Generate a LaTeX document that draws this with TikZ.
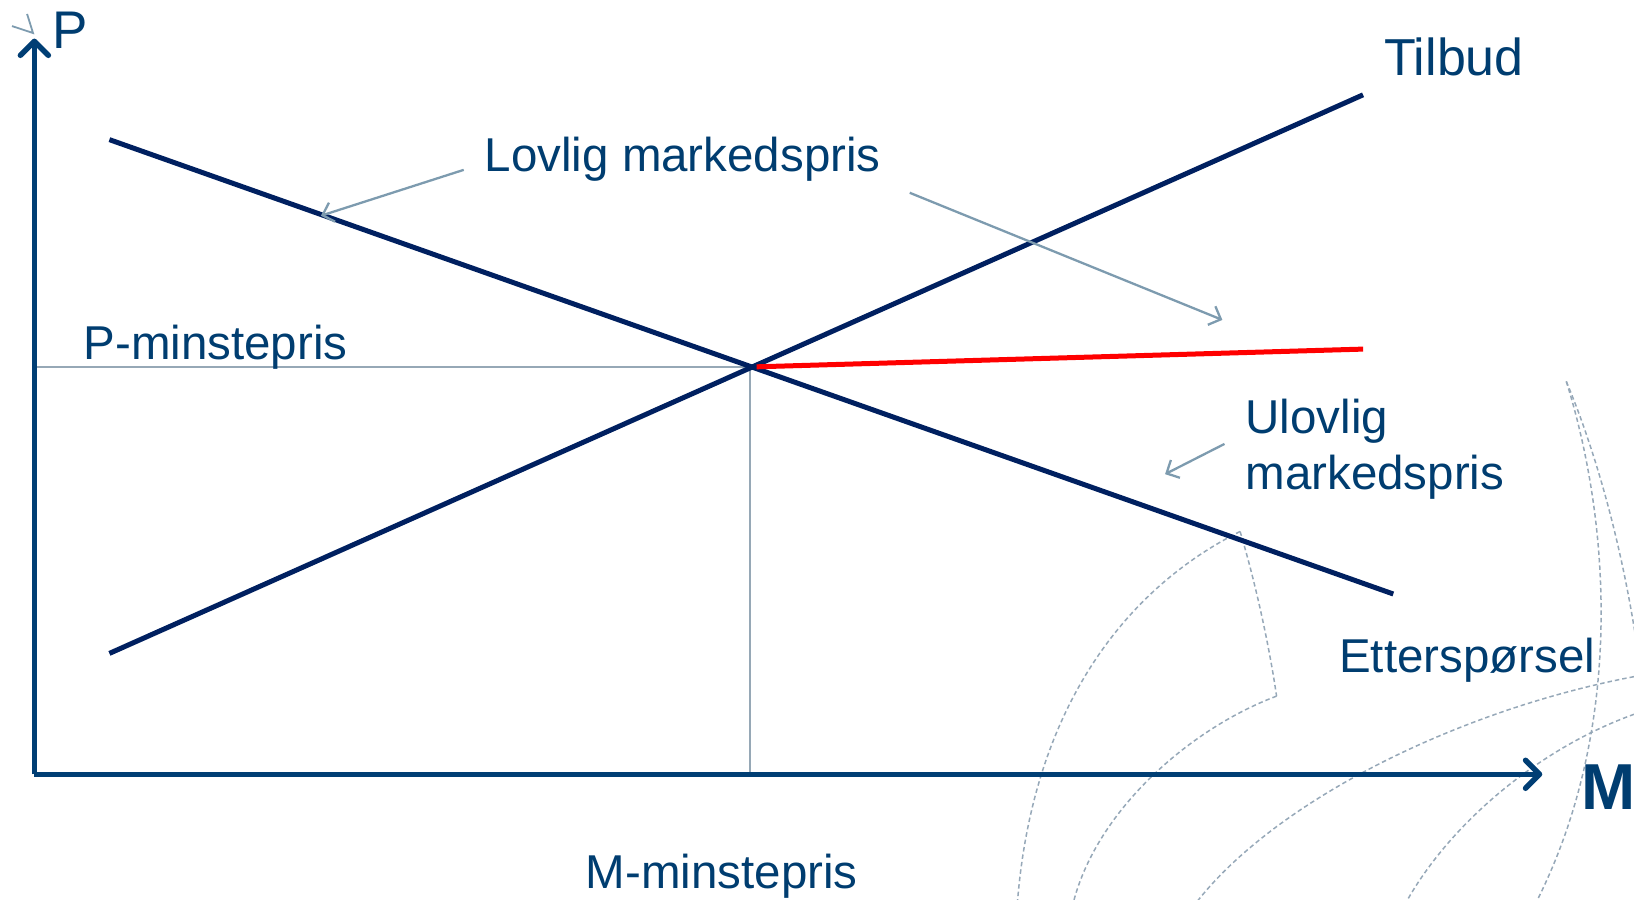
\documentclass[tikz,border=0pt]{standalone}
\usepackage{fontspec}
\setmainfont{Liberation Sans}
\usetikzlibrary{arrows.meta}
\definecolor{axisblue}{RGB}{0,62,116}
\definecolor{txtblue}{RGB}{0,61,112}
\definecolor{curvenavy}{RGB}{0,32,96}
\definecolor{guidegray}{RGB}{150,168,182}
\definecolor{arrowgray}{RGB}{125,155,175}
\definecolor{dashgray}{RGB}{150,168,184}
\begin{document}
\begin{tikzpicture}[x=1.0421pt,y=-1.0421pt,
  axisline/.style={line width=5.5pt, draw=axisblue, -{Straight Barb[length=14pt,width=28pt,round]}},
  curveline/.style={line width=5pt, draw=curvenavy},
  redline/.style={line width=5pt, draw=red},
  guide/.style={line width=1.8pt, draw=guidegray},
  pointer/.style={line width=2.3pt, draw=arrowgray, -{Straight Barb[length=10pt,width=20pt]}},
  deco/.style={line width=1.5pt, draw=dashgray, dash pattern=on 4.5pt off 3pt},
  lbl/.style={text=txtblue, inner sep=0pt, anchor=base west, font=\fontsize{47.5}{57}\selectfont}]
\useasboundingbox (0,0) rectangle (1568,862.7);
% decorative dashed arcs
\coordinate (apex) at (1190,510);
\coordinate (knee) at (1225,668);
\coordinate (top) at (1503,366);
\draw[deco] (apex) .. controls (1080,565) and (990,680) .. (976,870);
\draw[deco] (apex) .. controls (1205,560) and (1218,620) .. (knee);
\draw[deco] (knee) .. controls (1140,700) and (1050,780) .. (1029,870);
\draw[deco] (1575,648) .. controls (1400,680) and (1220,770) .. (1145,870);
\draw[deco] (1575,683) .. controls (1480,715) and (1390,790) .. (1347,870);
\draw[deco] (top) .. controls (1545,500) and (1560,700) .. (1472,870);
\draw[deco] (top) .. controls (1530,430) and (1560,530) .. (1575,650);
% points
\coordinate (o) at (33,743);
\coordinate (ytip) at (33,37);
\coordinate (xtip) at (1480,743);
\coordinate (eq) at (720,352);
\coordinate (pfoot) at (33,352);
\coordinate (mfoot) at (720,743);
\coordinate (redstart) at (726,352);
\coordinate (redend) at (1308,335);
\coordinate (d1) at (105,134);
\coordinate (d2) at (1337,570);
\coordinate (s1) at (105,627);
\coordinate (s2) at (1308,91);
% guides
\draw[guide] (pfoot) -- (eq) -- (mfoot);
% curves
\draw[curveline] (d1) -- (d2);
\draw[curveline] (s1) -- (s2);
\draw[redline] (redstart) -- (redend);
% axes
\draw[axisline] (o) -- (ytip);
\draw[axisline] (o) -- (xtip);
% stray arrowhead at top of y axis
\coordinate (st) at (31.7,31.7);
\coordinate (sa) at (11.5,25);
\coordinate (sb) at (26,13.4);
\draw[line width=1.8pt, draw=arrowgray] (sa) -- (st) -- (sb);
% labels
\node[lbl, font=\fontsize{53}{60}\selectfont] (plab) at (50,47) {P};
\node[lbl, font=\fontsize{65}{70}\selectfont\bfseries] (mlab) at (1517,777) {M};
\node[lbl, font=\fontsize{52}{60}\selectfont] (tilbud) at (1328,72) {Tilbud};
\node[lbl] (lovlig) at (465,165) {Lovlig markedspris};
\node[lbl] (pmin) at (80,345) {P-minstepris};
\node[lbl] (ulov1) at (1195,416) {Ulovlig};
\node[lbl] (ulov2) at (1195,470) {markedspris};
\node[lbl] (etter) at (1285,645) {Etterspørsel};
\node[lbl] (mmin) at (562,853) {M-minstepris};
% pointer arrows
\coordinate (a1s) at (445,163);
\coordinate (a1e) at (308,207);
\coordinate (a2s) at (873,185);
\coordinate (a2e) at (1173,307);
\coordinate (a3s) at (1175,426);
\coordinate (a3e) at (1118,455);
\draw[pointer] (a1s) -- (a1e);
\draw[pointer] (a2s) -- (a2e);
\draw[pointer] (a3s) -- (a3e);
\end{tikzpicture}
\end{document}
